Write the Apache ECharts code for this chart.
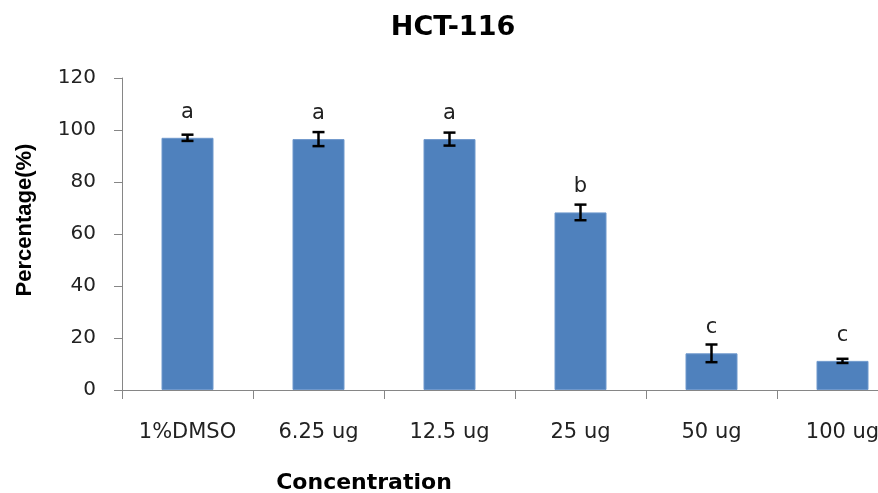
<!DOCTYPE html>
<html>
<head>
<meta charset="utf-8">
<script src="https://cdn.jsdelivr.net/npm/echarts@6/dist/echarts.min.js"></script>
<style>html,body{margin:0;padding:0;background:#fff;overflow:hidden;width:878px;height:493px;}#c{width:910px;height:493px;}</style>
</head>
<body>
<div id="c"></div>
<script>
const categories = ['1%DMSO', '6.25 ug', '12.5 ug', '25 ug', '50 ug', '100 ug'];
const means = [97.0, 96.5, 96.5, 68.3, 14.1, 11.2];
const errors = [1.2, 2.7, 2.5, 3.0, 3.4, 0.8];
const letters = ['a', 'a', 'a', 'b', 'c', 'c'];
const yTicks = [0, 20, 40, 60, 80, 100, 120];

const chart = echarts.init(document.getElementById('c'), null, {renderer: 'canvas'});
const axisColor = '#868686';
const tickFont = 'DejaVu Sans';

chart.setOption({
  animation: false,
  backgroundColor: '#ffffff',
  title: {
    text: 'HCT-116',
    left: 448, top: 9, textAlign: 'center',
    textStyle: {fontFamily: 'DejaVu Sans', fontWeight: 'bold', fontSize: 27, color: '#000'}
  },
  grid: {left: 122, top: 78, right: 2, bottom: 103},
  xAxis: {
    type: 'category', data: categories,
    axisLine: {lineStyle: {color: axisColor, width: 1}},
    axisTick: {show: true, length: 9, lineStyle: {color: axisColor}},
    axisLabel: {interval: 0, hideOverlap: false, margin: 32, fontFamily: tickFont, fontSize: 21, color: '#222'}
  },
  yAxis: {
    type: 'value', min: yTicks[0], max: yTicks[yTicks.length - 1], interval: 20,
    splitLine: {show: false},
    axisLine: {show: true, lineStyle: {color: axisColor, width: 1}},
    axisTick: {show: true, length: 8, lineStyle: {color: axisColor}},
    axisLabel: {margin: 26, fontFamily: tickFont, fontSize: 20, color: '#222'}
  },
  graphic: [
    {type: 'text', x: 25, y: 220, rotation: Math.PI / 2,
     style: {text: 'Percentage(%)', font: 'bold 22px "Liberation Sans"', fill: '#000', align: 'center', verticalAlign: 'middle'}},
    {type: 'text', x: 364, y: 483,
     style: {text: 'Concentration', font: 'bold 22px "DejaVu Sans"', fill: '#000', align: 'center', verticalAlign: 'middle'}}
  ],
  series: [
    {
      type: 'bar', data: means, barWidth: 52,
      itemStyle: {color: '#4F81BD', borderColor: '#6f98cc', borderWidth: 1},
      label: {
        show: true, position: 'top', distance: 15,
        formatter: p => letters[p.dataIndex],
        fontFamily: tickFont, fontSize: 21, color: '#222'
      }
    },
    {
      type: 'custom',
      data: means.map((m, i) => [i, m, errors[i]]),
      renderItem: function (params, api) {
        const i = api.value(0), m = api.value(1), e = api.value(2);
        const top = api.coord([i, m + e]);
        const bot = api.coord([i, m - e]);
        const x = top[0], hw = 6;
        const st = {stroke: '#000', lineWidth: 2.5};
        return {
          type: 'group',
          children: [
            {type: 'line', shape: {x1: x, y1: top[1], x2: x, y2: bot[1]}, style: st},
            {type: 'line', shape: {x1: x - hw, y1: top[1], x2: x + hw, y2: top[1]}, style: st},
            {type: 'line', shape: {x1: x - hw, y1: bot[1], x2: x + hw, y2: bot[1]}, style: st}
          ]
        };
      },
      z: 5
    }
  ]
});
</script>
</body>
</html>
